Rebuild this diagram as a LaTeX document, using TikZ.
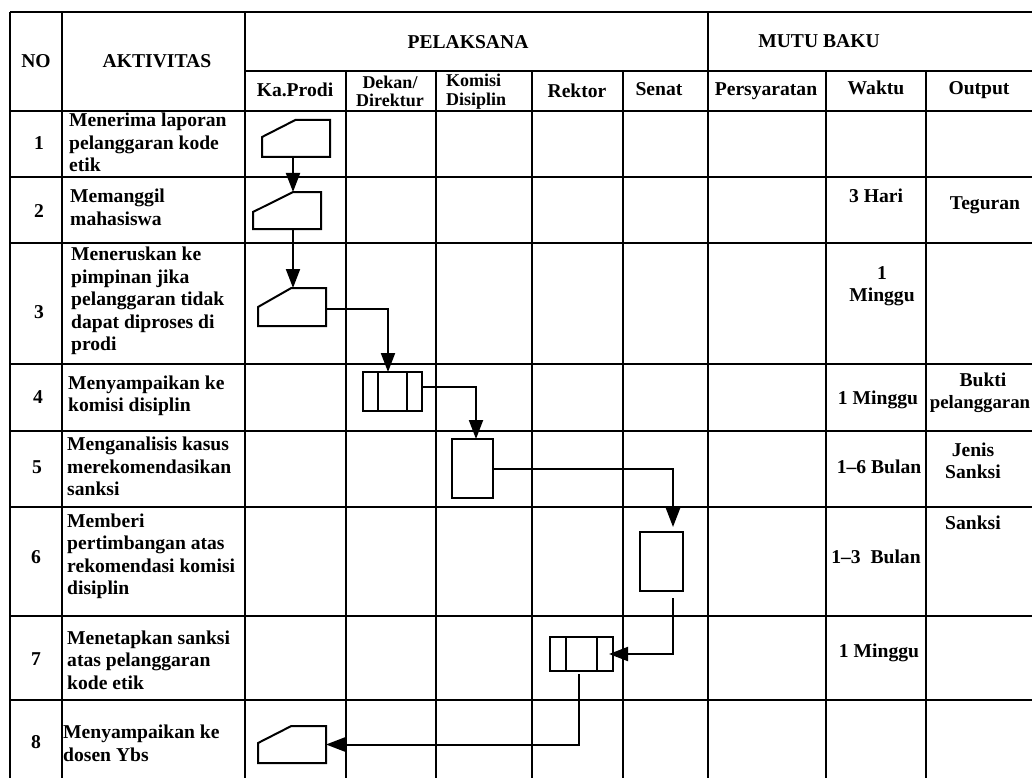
\documentclass[tikz,border=0pt]{standalone}
\usepackage{fontspec}
\setmainfont{Liberation Serif}
\usetikzlibrary{arrows.meta,calc}
\begin{document}
\begin{tikzpicture}[x=1pt,y=-1pt,
  gridline/.style={line width=2.6pt},
  boxline/.style={line width=2pt, line join=miter},
  slot/.style={draw=none, inner sep=0pt, outer sep=0pt, rectangle},
  procbox/.style={draw, line width=2pt, inner sep=0pt, outer sep=0pt, rectangle},
  flow/.style={line width=2pt, -{Triangle[length=19pt,width=14pt]}},
  txt/.style={font=\fontsize{19.6pt}{22.5pt}\selectfont\bfseries, inner sep=0pt},
  hd/.style={font=\fontsize{19.6pt}{20pt}\selectfont\bfseries, inner sep=0pt},
  hd2/.style={font=\fontsize{18pt}{18.5pt}\selectfont\bfseries, inner sep=0pt},
  rowtxt/.style={txt, align=left, anchor=west},
  ctxt/.style={txt, align=center}
]
\useasboundingbox (0,0) rectangle (1032,778);

% ---------- table grid ----------
\draw[gridline] (10,12) -- (1045,12);
\draw[gridline] (245,71) -- (1045,71);
\foreach \yy in {111,177,243,364,431,507,616,700}
  \draw[gridline] (10,\yy) -- (1045,\yy);
\foreach \xx in {10,62,245,708}
  \draw[gridline] (\xx,12) -- (\xx,795);
\foreach \xx in {346,436,532,623,826,926}
  \draw[gridline] (\xx,71) -- (\xx,795);

% ---------- header ----------
\node[hd] (hno) at (36,61) {NO};
\node[hd] (hakt) at (157,61) {AKTIVITAS};
\node[hd] (hpel) at (468,42) {PELAKSANA};
\node[hd] (hmutu) at (819,41) {MUTU BAKU};
\node[hd] (hka) at (295,90) {Ka.Prodi};
\node[hd2, align=center] (hdek) at (390,91.5) {Dekan/\\Direktur};
\node[hd2, align=left, anchor=west] (hkom) at (446,91.5) {Komisi\\Disiplin};
\node[hd] (hrek) at (577,91) {Rektor};
\node[hd] (hsen) at (659,89) {Senat};
\node[hd] (hpers) at (766,91) {Persyaratan};
\node[hd] (hwak) at (876,88) {Waktu};
\node[hd] (hout) at (979,90) {Output};

% ---------- row numbers ----------
\node[txt] (n1) at (39,143) {1};
\node[txt] (n2) at (39,211) {2};
\node[txt] (n3) at (39,312) {3};
\node[txt] (n4) at (38,397) {4};
\node[txt] (n5) at (37,467) {5};
\node[txt] (n6) at (36,557) {6};
\node[txt] (n7) at (36,659) {7};
\node[txt] (n8) at (36,742) {8};

% ---------- activities ----------
\node[rowtxt] (a1) at (69,142.5) {Menerima laporan\\pelanggaran kode\\etik};
\node[rowtxt] (a2) at (70,207.5) {Memanggil\\mahasiswa};
\node[rowtxt] (a3) at (71,301) {Meneruskan ke\\pimpinan jika\\pelanggaran tidak\\dapat diproses di\\prodi};
\node[rowtxt] (a4) at (68,396) {Menyampaikan ke\\komisi disiplin};
\node[rowtxt] (a5) at (67,466.5) {Menganalisis kasus\\merekomendasikan\\sanksi};
\node[rowtxt] (a6) at (67,556.5) {Memberi\\pertimbangan atas\\rekomendasi komisi\\disiplin};
\node[rowtxt] (a7) at (67,660) {Menetapkan sanksi\\atas pelanggaran\\kode etik};
\node[rowtxt] (a8) at (63,743.5) {Menyampaikan ke\\dosen Ybs};

% ---------- mutu baku ----------
\node[ctxt] (w2) at (876,196) {3 Hari};
\node[ctxt] (o2) at (985,205) {Teguran};
\node[ctxt] (w3) at (882,286) {1\\Minggu};
\node[ctxt] (w4) at (878,400) {1 Minggu};
\node[ctxt] (o4a) at (983,380) {Bukti};
\node[txt, font=\fontsize{18.8pt}{22.5pt}\selectfont\bfseries] (o4b) at (980,404) {pelanggaran};
\node[ctxt] (w5) at (879,467) {1–6 Bulan};
\node[ctxt] (o5) at (973,461) {Jenis\\Sanksi};
\node[ctxt] (o6) at (973,523) {Sanksi};
\node[ctxt] (w6) at (876,557) {1–3~ Bulan};
\node[ctxt] (w7) at (879,653) {1 Minggu};

% ---------- flow shapes ----------
% manual input shapes
\node[slot, minimum width=68pt, minimum height=37pt] (s1) at (296,138.5) {};
\node[slot, minimum width=68pt, minimum height=37pt] (s2) at (287,210.5) {};
\node[slot, minimum width=68pt, minimum height=38pt] (s3) at (292,307) {};
\node[slot, minimum width=68pt, minimum height=37pt] (s8) at (292,744.5) {};
\draw[boxline] (s1.south west) -- (s1.south east) -- (s1.north east) -- ($(s1.north west)!.49!(s1.north east)$) -- ($(s1.north west)!.46!(s1.south west)$) -- cycle;
\draw[boxline] (s2.south west) -- (s2.south east) -- (s2.north east) -- ($(s2.north west)!.59!(s2.north east)$) -- ($(s2.north west)!.54!(s2.south west)$) -- cycle;
\draw[boxline] (s3.south west) -- (s3.south east) -- (s3.north east) -- ($(s3.north west)!.49!(s3.north east)$) -- ($(s3.north west)!.5!(s3.south west)$) -- cycle;
\draw[boxline] (s8.south west) -- (s8.south east) -- (s8.north east) -- ($(s8.north west)!.49!(s8.north east)$) -- ($(s8.north west)!.46!(s8.south west)$) -- cycle;

% predefined process boxes
\node[procbox, minimum width=59pt, minimum height=39pt] (p4) at (392.5,391.5) {};
\draw[boxline] ([xshift=15pt]p4.north west) -- ([xshift=15pt]p4.south west);
\draw[boxline] ([xshift=-15pt]p4.north east) -- ([xshift=-15pt]p4.south east);
\node[procbox, minimum width=63pt, minimum height=34pt] (p7) at (581.5,654) {};
\draw[boxline] ([xshift=16pt]p7.north west) -- ([xshift=16pt]p7.south west);
\draw[boxline] ([xshift=-16pt]p7.north east) -- ([xshift=-16pt]p7.south east);

% process boxes
\node[procbox, minimum width=41pt, minimum height=59pt] (b5) at (472.5,468.5) {};
\node[procbox, minimum width=43pt, minimum height=59pt] (b6) at (661.5,561.5) {};

% ---------- connectors ----------
\coordinate (c12) at ($(s1.south)+(-3,0)$);
\draw[flow] (c12) -- (c12 |- s2.north);
\coordinate (c23) at ($(s2.south)+(6,0)$);
\draw[flow] (c23) -- (c23 |- s3.north);
\draw[flow] ($(s3.east)+(0,2)$) -| ($(p4.north)+(-4.5,0)$);
\draw[flow] ($(p4.east)+(0,-4.5)$) -| ($(b5.north)+(3.5,0)$);
\draw[flow] (b5.east) -| ($(b6.north)+(11.5,-5)$);
\draw[flow] ($(b6.south)+(11.5,7)$) |- ($(p7.east)+(-4,0)$);
\draw[flow] ($(p7.south)+(-2.5,3)$) |- (s8.east);
\end{tikzpicture}
\end{document}
